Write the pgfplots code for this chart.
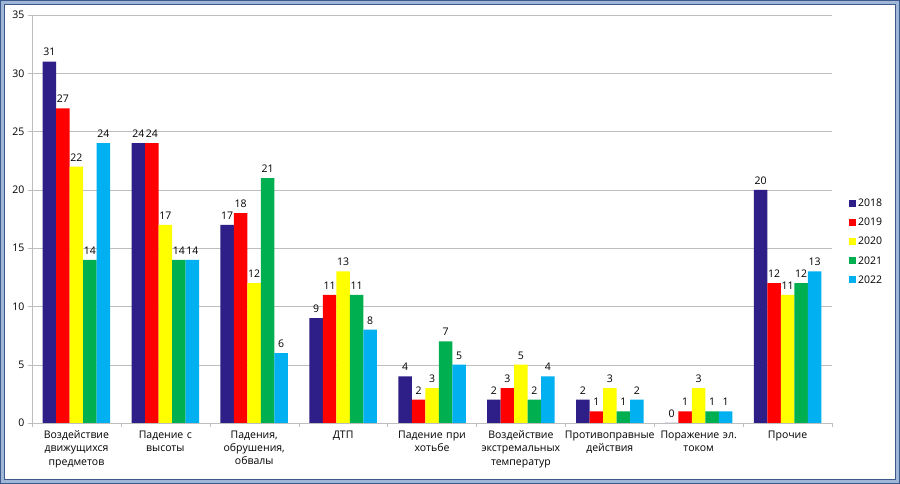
\documentclass[border=0pt]{standalone}
\usepackage{fontspec}
\setmainfont{Open Sans}
\usepackage{pgfplots}
\pgfplotsset{compat=1.18}

\definecolor{c18}{RGB}{46,30,135}
\definecolor{c19}{RGB}{255,0,0}
\definecolor{c20}{RGB}{255,255,0}
\definecolor{c21}{RGB}{0,176,80}
\definecolor{c22}{RGB}{0,176,240}
\definecolor{frameD}{RGB}{60,90,140}
\definecolor{frameL}{RGB}{160,182,215}
\definecolor{gridc}{RGB}{190,190,190}

\newcommand{\lblfont}{\fontsize{10.5}{13.3}\selectfont}

\begin{document}
\begin{tikzpicture}[x=1pt,y=1pt]
\useasboundingbox (0,0) rectangle (900,484);
\fill[white] (0,0) rectangle (900,484);
\begin{axis}[
  at={(32pt,61pt)}, anchor=south west,
  scale only axis, width=800pt, height=408pt,
  ybar=0pt, bar width=13.5pt,
  xmin=-0.5, xmax=8.5, ymin=0, ymax=35,
  axis x line*=bottom, axis y line*=left,
  axis line style={gridc},
  ytick={0,5,...,35}, minor ytick={0,5,...,35},
  xtick={0,...,8}, minor xtick={-0.5,0.5,...,8.5},
  major tick length=0pt, minor tick length=4pt,
  tick align=outside, tick style={gridc},
  ymajorgrids, major grid style={gridc},
  xticklabels={
    {Воздействие\\движущихся\\предметов},
    {Падение с\\высоты},
    {Падения,\\обрушения,\\обвалы},
    {ДТП},
    {Падение при\\хотьбе},
    {Воздействие\\экстремальных\\температур},
    {Противоправные\\действия},
    {Поражение эл.\\током},
    {Прочие}},
  x tick label style={font=\lblfont, align=center, text width=90pt, yshift=-4pt},
  y tick label style={font=\lblfont, xshift=-4pt},
  /pgf/number format/assume math mode=true,
  nodes near coords,
  every node near coord/.append style={font=\lblfont, black, yshift=2pt},
  legend style={at={(1.021,0.444)}, anchor=west, draw=none, fill=none,
    font=\lblfont, row sep=6pt, inner sep=0pt},
  legend cell align=left,
  legend image code/.code={\fill[#1] (0pt,-3pt) rectangle (7pt,4pt);},
]
\addplot[fill=c18, draw=none] coordinates {(0,31) (1,24) (2,17) (3,9) (4,4) (5,2) (6,2) (7,0) (8,20)};
\addplot[fill=c19, draw=none] coordinates {(0,27) (1,24) (2,18) (3,11) (4,2) (5,3) (6,1) (7,1) (8,12)};
\addplot[fill=c20, draw=none] coordinates {(0,22) (1,17) (2,12) (3,13) (4,3) (5,5) (6,3) (7,3) (8,11)};
\addplot[fill=c21, draw=none] coordinates {(0,14) (1,14) (2,21) (3,11) (4,7) (5,2) (6,1) (7,1) (8,12)};
\addplot[fill=c22, draw=none] coordinates {(0,24) (1,14) (2,6) (3,8) (4,5) (5,4) (6,2) (7,1) (8,13)};
\legend{2018,2019,2020,2021,2022}
\end{axis}
\draw[line width=4pt, frameL] (2.5,2.5) rectangle (897.5,481.5);
\draw[line width=1pt, frameD] (0.5,0.5) rectangle (899.5,483.5);
\draw[line width=1pt, frameD] (4.5,4.5) rectangle (895.5,479.5);
\end{tikzpicture}
\end{document}
